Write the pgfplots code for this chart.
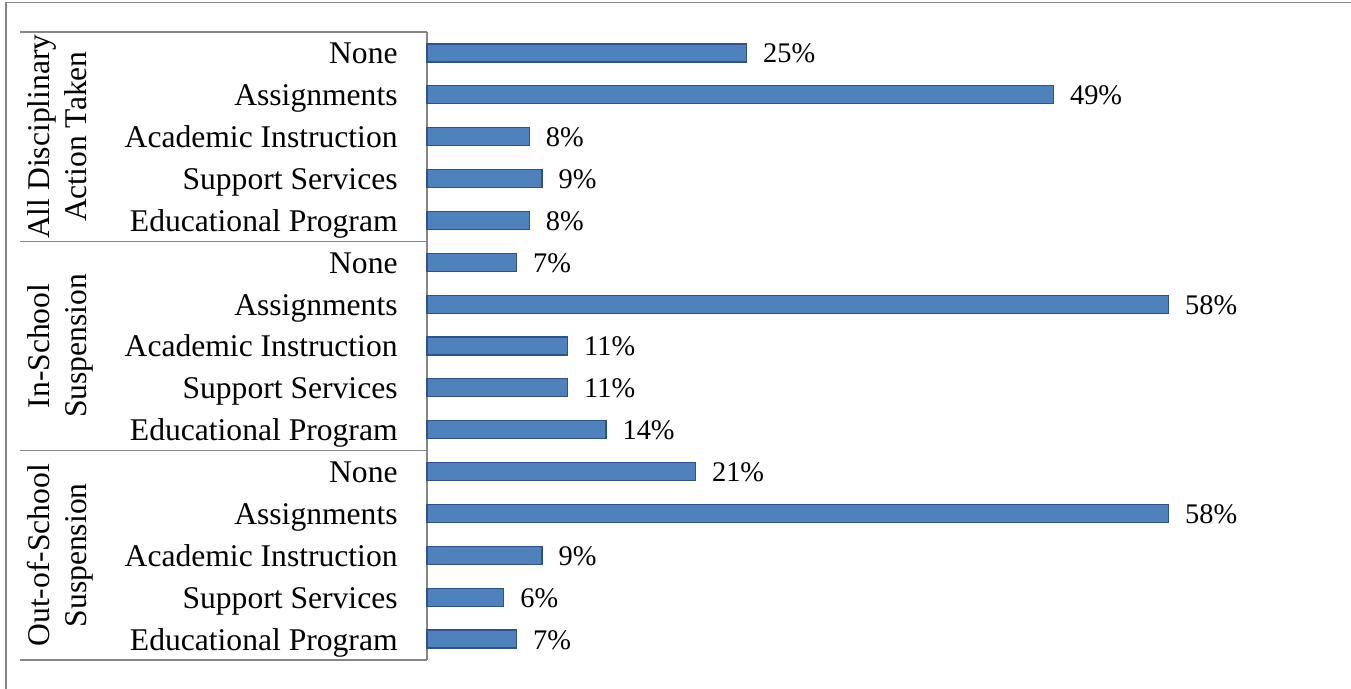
\documentclass[border=0pt]{standalone}
\usepackage{pgfplots}
\pgfplotsset{compat=1.18}
\usepackage{fontspec}
\setmainfont{Liberation Serif}
\definecolor{barfill}{RGB}{79,129,189}
\definecolor{baredge}{RGB}{47,82,143}
\definecolor{linegray}{RGB}{134,134,134}
\begin{document}
\begin{tikzpicture}
\useasboundingbox (0,0) rectangle (675.5pt,344.5pt);
\draw[linegray, line width=0.75pt] (3pt,0) -- (3pt,343.25pt) -- (675.5pt,343.25pt);
\begin{axis}[
  at={(213.5pt,14.5pt)}, anchor=south west,
  scale only axis, width=447.5pt, height=314pt,
  xbar, bar width=9pt,
  xmin=0, xmax=70, ymin=-0.5, ymax=14.5,
  axis x line=none, axis y line*=left,
  y axis line style={linegray, line width=0.75pt},
  ytick={0,...,14},
  yticklabels={Educational Program, Support Services, Academic Instruction, Assignments, None,
               Educational Program, Support Services, Academic Instruction, Assignments, None,
               Educational Program, Support Services, Academic Instruction, Assignments, None},
  major tick length=0pt,
  yticklabel style={font=\fontsize{15.8}{18}\selectfont, inner sep=0pt, xshift=-14.5pt, yshift=-5.5pt, anchor=base east},
  /pgf/number format/assume math mode=true,
  point meta=x,
  nodes near coords={\pgfmathprintnumber{\pgfplotspointmeta}\%},
  nodes near coords style={font=\fontsize{14.2}{17}\selectfont, anchor=base west, inner sep=0pt, xshift=8pt, yshift=-5pt},
  clip=false,
]
\addplot[fill=barfill, draw=baredge, line width=0.6pt] coordinates {
  (7,0) (6,1) (9,2) (58,3) (21,4)
  (14,5) (11,6) (11,7) (58,8) (7,9)
  (8,10) (9,11) (8,12) (49,13) (25,14)
};
\draw[linegray, line width=0.75pt] ([xshift=-203.5pt]axis cs:0,14.5) -- (axis cs:0,14.5);
\draw[linegray, line width=0.75pt] ([xshift=-203.5pt]axis cs:0,9.5) -- (axis cs:0,9.5);
\draw[linegray, line width=0.75pt] ([xshift=-203.5pt]axis cs:0,4.5) -- (axis cs:0,4.5);
\draw[linegray, line width=0.75pt] ([xshift=-203.5pt]axis cs:0,-0.5) -- (axis cs:0,-0.5);
\node[rotate=90, anchor=base, inner sep=0pt, font=\fontsize{15.8}{18}\selectfont] at ([xshift=-188.5pt]axis cs:0,12) {All Disciplinary};
\node[rotate=90, anchor=base, inner sep=0pt, font=\fontsize{15.8}{18}\selectfont] at ([xshift=-170pt]axis cs:0,12) {Action Taken};
\node[rotate=90, anchor=base, inner sep=0pt, font=\fontsize{15.8}{18}\selectfont] at ([xshift=-188.5pt]axis cs:0,7) {In-School};
\node[rotate=90, anchor=base, inner sep=0pt, font=\fontsize{15.8}{18}\selectfont] at ([xshift=-170pt]axis cs:0,7) {Suspension};
\node[rotate=90, anchor=base, inner sep=0pt, font=\fontsize{15.8}{18}\selectfont] at ([xshift=-188.5pt]axis cs:0,2) {Out-of-School};
\node[rotate=90, anchor=base, inner sep=0pt, font=\fontsize{15.8}{18}\selectfont] at ([xshift=-170pt]axis cs:0,2) {Suspension};
\end{axis}
\end{tikzpicture}
\end{document}
